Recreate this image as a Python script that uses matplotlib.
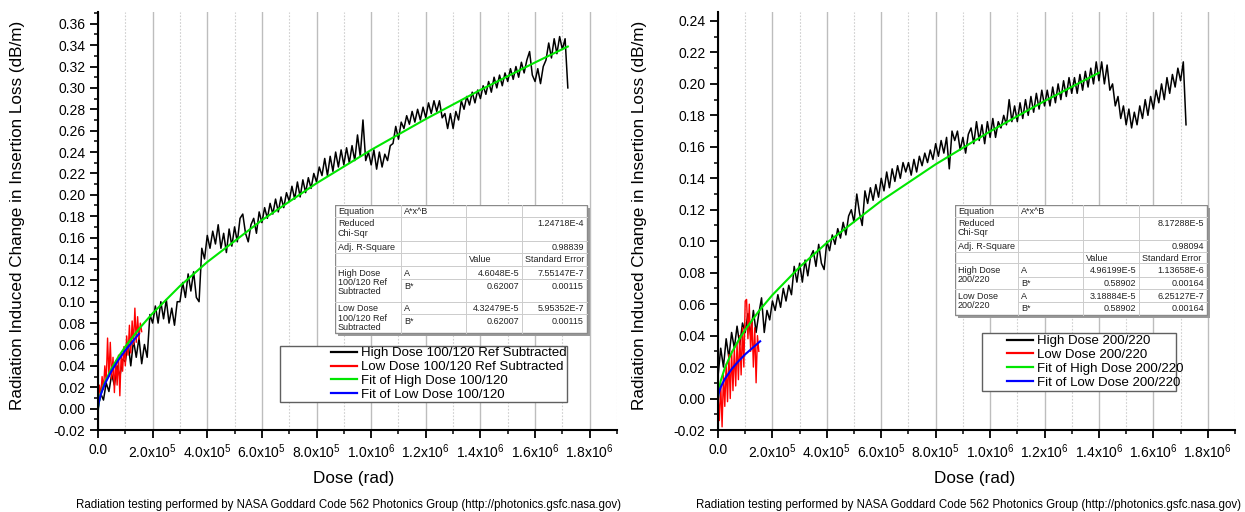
import numpy as np
import matplotlib
matplotlib.use("Agg")
import matplotlib.pyplot as plt
from matplotlib.ticker import MultipleLocator, FuncFormatter
from matplotlib.patches import Rectangle
from matplotlib.lines import Line2D

plt.rcParams['font.family'] = ['Liberation Sans', 'DejaVu Sans']
plt.rcParams['axes.unicode_minus'] = False

# ---- data (dose in rad, loss in 1e-3 dB/m for the measured traces) ----
step_hi = 1e4
step_lo = 5e3

# left panel: 100/120 ref subtracted
hi_left_mdb = [0, 14, 8, 24, 16, 32, 22, 40, 30, 46,
               44, 62, 40, 64, 48, 66, 42, 60, 48, 88,
               80, 96, 80, 100, 84, 102, 80, 94, 78, 100,
               100, 118, 104, 126, 110, 128, 104, 100, 150, 140,
               162, 150, 166, 154, 172, 150, 164, 146, 168, 152,
               170, 156, 178, 182, 164, 156, 172, 178, 164, 184,
               174, 188, 178, 192, 182, 196, 184, 198, 188, 202,
               194, 208, 196, 212, 198, 214, 202, 216, 206, 220,
               212, 226, 218, 234, 218, 236, 222, 240, 226, 242,
               228, 244, 230, 246, 232, 256, 236, 270, 232, 240,
               228, 242, 224, 240, 226, 238, 232, 246, 248, 264,
               252, 268, 262, 274, 266, 278, 268, 280, 270, 282,
               272, 286, 276, 288, 278, 288, 272, 276, 262, 276,
               262, 278, 270, 288, 280, 292, 284, 296, 286, 298,
               290, 302, 294, 306, 296, 310, 300, 312, 302, 314,
               306, 318, 308, 320, 310, 324, 314, 326, 334, 312,
               306, 318, 304, 320, 326, 342, 328, 346, 332, 348,
               336, 346, 300]
lo_left_mdb = [5, 22, 12, 30, 18, 40, 25, 66, 30, 62,
               28, 48, 15, 45, 22, 50, 12, 52, 35, 58,
               40, 68, 50, 78, 52, 82, 60, 94, 62, 86,
               65, 80, 72]

# right panel: 200/220
hi_right_mdb = [14, 32, 20, 38, 26, 42, 32, 46, 34, 48,
                42, 54, 40, 56, 42, 54, 64, 42, 56, 50,
                62, 56, 66, 58, 70, 62, 72, 66, 84, 74,
                86, 74, 88, 78, 90, 94, 84, 98, 86, 82,
                100, 94, 104, 98, 108, 102, 112, 104, 116, 120,
                112, 130, 118, 110, 132, 124, 134, 126, 136, 128,
                140, 132, 144, 134, 146, 138, 148, 140, 150, 144,
                150, 142, 152, 144, 154, 148, 156, 150, 158, 152,
                162, 154, 164, 156, 166, 146, 170, 164, 170, 158,
                166, 156, 168, 172, 162, 176, 164, 174, 162, 176,
                166, 178, 166, 176, 172, 180, 174, 190, 176, 186,
                176, 188, 178, 190, 180, 192, 182, 194, 184, 196,
                186, 196, 186, 198, 188, 200, 190, 202, 192, 204,
                194, 204, 194, 206, 196, 208, 198, 210, 200, 214,
                202, 214, 200, 212, 196, 200, 186, 192, 178, 186,
                174, 184, 172, 182, 174, 186, 178, 190, 180, 192,
                184, 196, 188, 200, 190, 204, 194, 206, 198, 210,
                202, 214, 174]
lo_right_mdb = [2, -14, 10, -18, 15, -5, 22, -2, 28, 0,
                30, 5, 32, 8, 35, 12, 40, 15, 45, 20,
                62, 63, 38, 60, 30, 50, 20, 45, 10, 40,
                30]

# fit curves A*x^B
fit_dose = [0, 2e3, 1e4, 2.5e4, 5e4, 7.5e4, 1e5, 1.5e5, 2e5, 3e5, 4e5,
            6e5, 8e5, 1e6, 1.2e6, 1.4e6, 1.6e6, 1.72e6]
fit_hi_left = [0, 0.00513, 0.01393, 0.02457, 0.03776, 0.04854, 0.05800,
               0.07458, 0.08915, 0.1147, 0.1371, 0.1763, 0.2108, 0.2420,
               0.2709, 0.2981, 0.3238, 0.3387]
fit_lo_left = [0, 0.00482, 0.01308, 0.02308, 0.03546, 0.04559, 0.05447,
               0.07005]
fit_hi_right = [0, 0.004366, 0.01126, 0.01933, 0.02909, 0.03688, 0.04376,
                0.05555, 0.06583, 0.08359, 0.09899, 0.1257, 0.1489,
                0.1698, 0.1891, 0.2071]
fit_lo_right_dose = [0, 2e3, 1e4, 2.5e4, 5e4, 7.5e4, 1e5, 1.55e5]
fit_lo_right = [0, 0.002806, 0.007236, 0.01242, 0.01869, 0.02370,
                0.02812, 0.03640]

legend_left = ['High Dose 100/120 Ref Subtracted', 'Low Dose 100/120 Ref Subtracted',
               'Fit of High Dose 100/120', 'Fit of Low Dose 100/120']
legend_right = ['High Dose 200/220', 'Low Dose 200/220',
                'Fit of High Dose 200/220', 'Fit of Low Dose 200/220']

table_left = [
    ['Equation', 'A*x^B', '', ''],
    ['Reduced\nChi-Sqr', '', '', '1.24718E-4'],
    ['Adj. R-Square', '', '', '0.98839'],
    ['', '', 'Value', 'Standard Error'],
]
groups_left = [('High Dose\n100/120 Ref\nSubtracted', [('A', '4.6048E-5', '7.55147E-7'),
                                                     ('B*', '0.62007', '0.00115')]),
               ('Low Dose\n100/120 Ref\nSubtracted', [('A', '4.32479E-5', '5.95352E-7'),
                                                    ('B*', '0.62007', '0.00115')])]
table_right = [
    ['Equation', 'A*x^B', '', ''],
    ['Reduced\nChi-Sqr', '', '', '8.17288E-5'],
    ['Adj. R-Square', '', '', '0.98094'],
    ['', '', 'Value', 'Standard Error'],
]
groups_right = [('High Dose\n200/220', [('A', '4.96199E-5', '1.13658E-6'),
                                       ('B*', '0.58902', '0.00164')]),
                ('Low Dose\n200/220', [('A', '3.18884E-5', '6.25127E-7'),
                                      ('B*', '0.58902', '0.00164')])]

ylabel = 'Radiation Induced Change in Insertion Loss (dB/m)'
footnote = 'Radiation testing performed by NASA Goddard Code 562 Photonics Group (http://photonics.gsfc.nasa.gov)'

W, H = 1245, 512
fig = plt.figure(figsize=(W / 100, H / 100), dpi=100)


def xfmt(v, pos):
    if abs(v) < 1:
        return '0.0'
    if v < 0:
        return ''
    e = int(np.floor(np.log10(v) + 1e-9))
    return r'$\mathregular{%.1fx10^{%d}}$' % (v / 10 ** e, e)


def setup_axes(px0, px1, ytop):
    ax = fig.add_axes([px0 / W, 1 - 430 / H, (px1 - px0) / W, 418 / H])
    ax.set_xlim(0, 1.9e6)
    ax.set_ylim(-0.02, ytop)
    for s in ['top', 'right']:
        ax.spines[s].set_visible(False)
    for s in ['left', 'bottom']:
        ax.spines[s].set_linewidth(1.5)
    ax.xaxis.set_major_locator(MultipleLocator(2e5))
    ax.xaxis.set_minor_locator(MultipleLocator(1e5))
    ax.yaxis.set_major_locator(MultipleLocator(0.02))
    ax.yaxis.set_minor_locator(MultipleLocator(0.01))
    ax.xaxis.set_major_formatter(FuncFormatter(xfmt))
    ax.yaxis.set_major_formatter(FuncFormatter(lambda v, p: '%.2f' % v))
    ax.tick_params(which='major', direction='out', length=6, width=1.3, labelsize=10, pad=3)
    ax.tick_params(which='minor', direction='out', length=3, width=1.1)
    ax.grid(True, which='major', axis='x', color='#bdbdbd', lw=1.0)
    ax.grid(True, which='minor', axis='x', color='#cfcfcf', lw=0.8, ls=(0, (1.5, 1.5)))
    ax.set_axisbelow(True)
    return ax


def draw_table(px0, px1, py0, cols, rows, header, groups):
    tx = fig.add_axes([px0 / W, 1 - (py0 + rows[-1] + 3) / H, (px1 - px0 + 3) / W, (rows[-1] + 3) / H])
    tx.set_xlim(px0, px1 + 3)
    tx.set_ylim(py0 + rows[-1] + 3, py0)
    tx.axis('off')
    yb = [py0 + r for r in rows]
    tx.add_patch(Rectangle((px0 + 3, py0 + 3), px1 - px0, yb[-1] - py0, fc='#9a9a9a', ec='none'))
    tx.add_patch(Rectangle((px0, py0), px1 - px0, yb[-1] - py0, fc='white', ec='#8a8a8a', lw=1))
    kw = dict(fontsize=6.5, color='#222222', va='top', linespacing=1.05)
    for c in cols[1:-1]:
        tx.plot([c, c], [py0, yb[-1]], color='#cccccc', lw=0.7)
    for i, row in enumerate(header):
        if i > 0:
            tx.plot([px0, px1], [yb[i], yb[i]], color='#cccccc', lw=0.7)
        for j, t in enumerate(row):
            if not t:
                continue
            if j == 3 and i < 3:
                tx.text(cols[4] - 3, yb[i] + 2, t, ha='right', **kw)
            else:
                tx.text(cols[j] + 3, yb[i] + 2, t, ha='left', **kw)
    k = len(header)
    for label, sub in groups:
        tx.plot([px0, px1], [yb[k], yb[k]], color='#cccccc', lw=0.7)
        tx.text(cols[0] + 3, yb[k] + 2.5, label, ha='left', **kw)
        for s, (p, v, e) in enumerate(sub):
            if s > 0:
                tx.plot([cols[1], px1], [yb[k], yb[k]], color='#cccccc', lw=0.7)
            tx.text(cols[1] + 3, yb[k] + 2.5, p, ha='left', **kw)
            tx.text(cols[3] - 3, yb[k] + 2.5, v, ha='right', **kw)
            tx.text(cols[4] - 3, yb[k] + 2.5, e, ha='right', **kw)
            k += 1


def draw_legend(ax, box, anchor, labels):
    x0, x1, y0, y1 = box
    ax.add_patch(Rectangle((x0, y0), x1 - x0, y1 - y0, transform=ax.transAxes,
                           fc='white', ec='#606060', lw=1, zorder=5))
    handles = [Line2D([], [], color=c, lw=1.6) for c in ['black', '#ff0000', '#00e600', '#0000ff']]
    leg = ax.legend(handles, labels, loc='center left', bbox_to_anchor=anchor,
                    frameon=False, fontsize=9.5, handlelength=2.0, handletextpad=0.3,
                    labelspacing=0.12, borderpad=0, borderaxespad=0)
    leg.set_zorder(6)


hi_left_dose = np.arange(len(hi_left_mdb)) * step_hi
lo_left_dose = np.arange(len(lo_left_mdb)) * step_lo
hi_right_dose = np.arange(len(hi_right_mdb)) * step_hi
lo_right_dose = np.arange(len(lo_right_mdb)) * step_lo

# ---- left panel ----
ax1 = setup_axes(98, 617, 0.371)
ax1.plot(hi_left_dose, np.array(hi_left_mdb) / 1000, color='black', lw=1.1)
ax1.plot(lo_left_dose, np.array(lo_left_mdb) / 1000, color='#ff0000', lw=1.0)
ax1.plot(fit_dose, fit_hi_left, color='#00e600', lw=1.5)
ax1.plot(fit_dose[:len(fit_lo_left)], fit_lo_left, color='#0000ff', lw=1.5)
draw_legend(ax1, (0.351, 0.904, 0.067, 0.201), (0.449, 0.134), legend_left)
draw_table(335, 587, 205, [335, 401, 466, 522, 587],
           [0, 12.3, 35.7, 48.3, 61, 74.3, 96.7, 109, 128.3],
           table_left, groups_left)

# ---- right panel ----
ax2 = setup_axes(718, 1235, 0.2457)
ax2.plot(hi_right_dose, np.array(hi_right_mdb) / 1000, color='black', lw=1.1)
ax2.plot(lo_right_dose, np.array(lo_right_mdb) / 1000, color='#ff0000', lw=1.0)
ax2.plot(fit_dose[:len(fit_hi_right)], fit_hi_right, color='#00e600', lw=1.5)
ax2.plot(fit_lo_right_dose, fit_lo_right, color='#0000ff', lw=1.5)
draw_legend(ax2, (0.511, 0.886, 0.093, 0.232), (0.559, 0.163), legend_right)
draw_table(955, 1207, 205, [955, 1018, 1083, 1139, 1207],
           [0, 11.7, 35, 46.7, 58.3, 71.7, 84.3, 96.7, 110],
           table_right, groups_right)

# ---- labels ----
for cx, lx in [(18, 354), (640, 975)]:
    fig.text(cx / W, 1 - 215 / H, ylabel, rotation=90, ha='center', va='center', fontsize=12.3)
    fig.text(lx / W, 1 - 478 / H, 'Dose (rad)', ha='center', va='center', fontsize=12.3)
fig.text(348 / W, 1 - 505 / H, footnote, ha='center', va='center', fontsize=8.3)
fig.text(968 / W, 1 - 505 / H, footnote, ha='center', va='center', fontsize=8.3)

fig.savefig('out.png', dpi=100, facecolor='white')
